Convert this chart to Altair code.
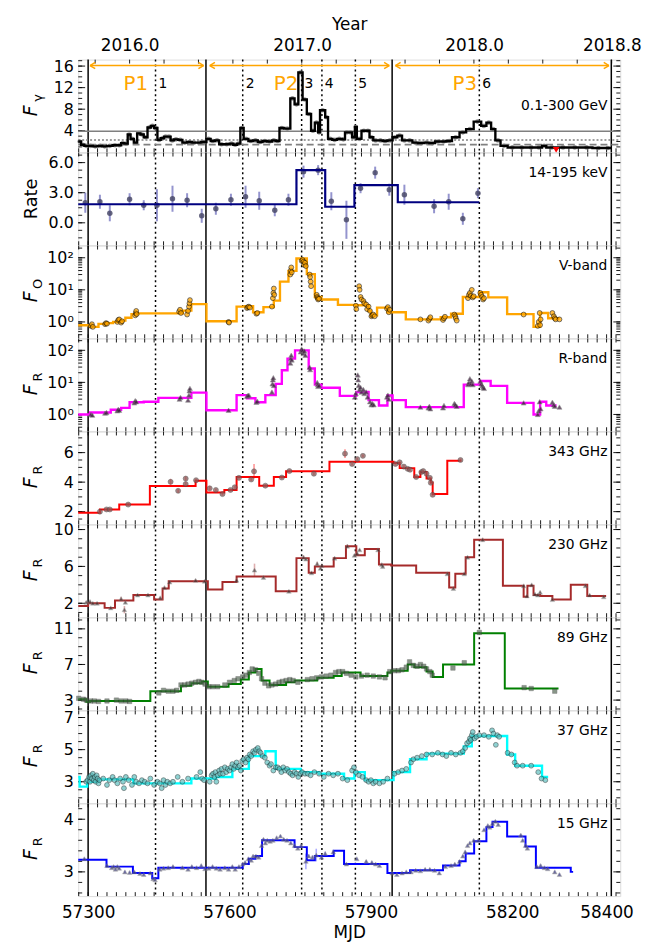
import numpy as np
import pandas as pd
import altair as alt

FONT = "DejaVu Sans"
X0, X1 = 57279, 58429
W, H = 548, 93.7

# ---------------- shared annotations ----------------
period_edges = [57300, 57550, 57945, 58410]
event_mjd = [57443, 57628, 57753, 57796, 57867, 58130]
event_num = ["1", "2", "3", "4", "5", "6"]
period_names = ["P1", "P2", "P3"]
period_label_mjd = [57401, 57720, 58099]
arrow_start = [57304, 57558, 57952]
arrow_end = [57545, 57939, 58405]
year_tick_mjd = [57388.0, 57754.0, 58119.0, 58411.2]
year_tick_label = ["2016.0", "2017.0", "2018.0", "2018.8"]
mjd_tick_vals = [57300, 57600, 57900, 58200, 58400]
fermi_levels = [3.9, 2.28, 1.42]
fermi_ul = [(58293, 0.45)]

# ---------------- Fermi 0.1-300 GeV ----------------
gam_steps = [(57279, 2.0), (57285, 1.4), (57292, 1.2), (57300, 1.2), (57310, 1.1), (57320, 1.2), (57330, 1.1),
             (57340, 1.2), (57352, 1.3), (57362, 1.3), (57370, 1.7), (57377, 1.6), (57384, 3.3), (57390, 2.5),
             (57397, 1.8), (57404, 3.5), (57411, 3.3), (57418, 2.8), (57426, 4.6), (57433, 4.9), (57440, 4.5),
             (57447, 2.3), (57454, 2.6), (57461, 2.9), (57468, 2.9), (57475, 2.2), (57482, 2.4), (57491, 2.3),
             (57500, 1.8), (57510, 1.9), (57520, 1.8), (57530, 1.8), (57540, 1.9), (57551, 2.5), (57560, 2.1),
             (57569, 2.2), (57578, 1.5), (57588, 1.5), (57600, 1.6), (57608, 1.4), (57616, 1.6), (57623, 4.5),
             (57630, 2.5), (57640, 2.1), (57650, 2.2), (57660, 1.9), (57670, 2.1), (57680, 2.0), (57690, 2.2),
             (57698, 2.1), (57706, 4.5), (57716, 4.4), (57729, 10.0), (57738, 8.9), (57746, 14.8), (57755, 9.8),
             (57764, 7.1), (57773, 4.0), (57781, 5.5), (57788, 3.7), (57792, 7.8), (57803, 6.5), (57809, 2.5),
             (57818, 2.3), (57828, 2.5), (57838, 2.4), (57845, 3.7), (57853, 3.7), (57860, 2.8), (57866, 4.7),
             (57870, 2.5), (57880, 4.0), (57890, 4.0), (57897, 2.8), (57905, 2.2), (57915, 2.2), (57925, 2.1),
             (57935, 2.2), (57946, 2.8), (57956, 3.1), (57966, 2.2), (57976, 2.2), (57988, 1.8), (58000, 1.7),
             (58012, 1.8), (58024, 1.7), (58036, 2.0), (58048, 2.0), (58060, 2.1), (58072, 2.8), (58088, 3.7),
             (58102, 4.3), (58118, 5.7), (58134, 4.9), (58145, 5.5), (58155, 4.3), (58164, 2.2), (58175, 1.2),
             (58190, 0.9), (58210, 0.9), (58230, 0.9), (58250, 0.9), (58263, 1.2), (58272, 0.9), (58295, 0.9),
             (58320, 0.9), (58345, 0.9), (58370, 0.8), (58395, 0.8)]
gam_end = 58410

# ---------------- Swift-BAT 14-195 keV ----------------
bat_blocks = [(57279, 1.85), (57742, 5.25), (57803, 1.6), (57865, 3.75), (57957, 2.05)]
bat_end = 58130
bat_pts = [(57294, 2.0, 1.0), (57325, 2.1, 0.7), (57346, 0.95, 0.8), (57388, 2.35, 0.6), (57418, 1.75, 0.5),
           (57446, 1.75, 1.6), (57479, 2.4, 1.3), (57510, 2.25, 0.7), (57541, 0.7, 0.7), (57571, 1.4, 0.6),
           (57603, 2.3, 0.6), (57634, 2.6, 1.1), (57663, 2.2, 0.9), (57696, 1.25, 0.6), (57725, 2.3, 0.6),
           (57757, 5.1, 0.6), (57788, 5.25, 0.5), (57816, 2.15, 0.9), (57848, 0.3, 1.9), (57878, 3.45, 0.5),
           (57909, 5.0, 0.6), (57939, 3.3, 0.6), (57971, 2.8, 1.0), (58034, 1.65, 0.7), (58065, 2.1, 0.8),
           (58095, 0.4, 0.6), (58127, 2.95, 0.5)]

# ---------------- V band ----------------
v_blocks = [(57279, 0.79), (57304, 0.70), (57322, 0.87), (57339, 0.92), (57353, 1.0), (57366, 1.1), (57379, 1.35),
            (57392, 1.75), (57405, 1.85), (57501, 2.25), (57519, 3.6), (57551, 1.05), (57615, 3.0), (57633, 3.1),
            (57650, 2.0), (57672, 2.9), (57694, 4.6), (57707, 18), (57725, 39), (57742, 95), (57764, 31),
            (57781, 6.0), (57795, 5.0), (57830, 3.4), (57869, 3.3), (57895, 2.2), (57900, 1.6), (57913, 2.8),
            (57935, 2.0), (57974, 1.2), (58048, 1.4), (58070, 1.8), (58095, 6.0), (58130, 8.4), (58149, 5.8),
            (58189, 1.75), (58245, 0.7), (58259, 1.9), (58276, 1.3)]
v_end = 58300
v_pts = [(57306, 0.75), (57308, 0.85), (57310, 0.7), (57336, 0.85), (57338, 0.92), (57340, 0.88), (57362, 1.0),
         (57364, 1.15), (57366, 1.2), (57370, 0.95), (57372, 1.05), (57400, 1.6), (57401, 1.9), (57402, 2.2),
         (57403, 1.75), (57493, 2.1), (57495, 2.4), (57497, 1.9), (57510, 1.7), (57512, 2.2), (57514, 3.0),
         (57515, 3.8), (57516, 4.8), (57598, 1.0), (57599, 0.95), (57637, 2.7), (57639, 2.9), (57641, 3.0),
         (57643, 2.8), (57657, 1.8), (57659, 1.9), (57690, 3.0), (57692, 5.5), (57693, 8), (57694, 11), (57695, 7),
         (57729, 30), (57730, 40), (57731, 50), (57732, 35), (57753, 80), (57755, 85), (57757, 75), (57758, 60),
         (57760, 70), (57762, 55), (57770, 30), (57771, 25), (57772, 18), (57773, 13), (57785, 7), (57786, 6),
         (57787, 5.5), (57788, 5), (57790, 5.3), (57868, 3.2), (57869, 2.5), (57875, 13), (57876, 10), (57878, 6),
         (57880, 5), (57884, 4.5), (57886, 3.8), (57890, 3.5), (57892, 2.5), (57895, 3.0), (57898, 2.2),
         (57901, 1.5), (57903, 1.6), (57905, 1.7), (57908, 1.5), (57934, 2.6), (57936, 2.9), (57938, 2.0),
         (57940, 2.4), (58005, 1.2), (58022, 1.1), (58024, 1.25), (58026, 1.4), (58053, 1.15), (58055, 1.3),
         (58057, 1.45), (58077, 1.7), (58079, 1.5), (58080, 1.3), (58082, 1.1), (58106, 5.5), (58108, 7),
         (58110, 8), (58112, 6.5), (58114, 10), (58116, 5.8), (58118, 6.3), (58132, 8), (58134, 7), (58136, 6),
         (58138, 5), (58140, 5.5), (58224, 1.7), (58254, 0.75), (58256, 1.0), (58258, 1.9), (58259, 0.8),
         (58260, 1.2), (58285, 1.9), (58288, 1.5), (58290, 1.3), (58292, 1.2), (58300, 1.2)]

# ---------------- R band ----------------
r_blocks = [(57279, 1.0), (57304, 1.15), (57348, 1.4), (57370, 1.6), (57388, 2.4), (57418, 2.5), (57449, 3.3),
            (57519, 4.8), (57551, 1.35), (57615, 4.0), (57637, 3.2), (57655, 2.4), (57676, 4.0), (57698, 9.0),
            (57711, 24), (57723, 55), (57739, 100), (57768, 27), (57781, 8.5), (57795, 6.8), (57834, 3.8),
            (57869, 5.0), (57895, 2.8), (57917, 1.9), (57935, 3.9), (57946, 2.8), (57974, 1.7), (58097, 8.5),
            (58132, 11), (58154, 7.8), (58189, 2.3), (58245, 1.0), (58259, 2.5), (58272, 1.9)]
r_end = 58294
r_pts = [(57306, 1.0), (57309, 0.95), (57336, 1.1), (57339, 1.15), (57362, 1.3), (57364, 1.45), (57366, 1.35),
         (57398, 2.3), (57400, 2.7), (57402, 2.5), (57494, 3.0), (57496, 3.4), (57512, 2.8), (57514, 4.0),
         (57515, 5.5), (57516, 6.5), (57598, 1.35), (57637, 3.7), (57639, 3.9), (57641, 4.0), (57657, 2.4),
         (57659, 2.6), (57690, 5), (57691, 9), (57692, 12), (57693, 14), (57694, 8), (57729, 40), (57730, 55),
         (57731, 70), (57732, 50), (57751, 90), (57753, 110), (57755, 100), (57757, 80), (57759, 95), (57761, 70),
         (57770, 30), (57771, 25), (57786, 10), (57787, 8.5), (57788, 7.5), (57790, 8), (57866, 3.5), (57868, 4.5),
         (57872, 17), (57873, 12), (57874, 8), (57876, 6), (57878, 7), (57880, 5), (57884, 6), (57886, 4.5),
         (57890, 5), (57893, 3.5), (57898, 2.5), (57901, 2.0), (57903, 2.2), (57906, 2.0), (57934, 3.5),
         (57936, 4.0), (57938, 3.0), (58005, 1.7), (58022, 1.6), (58024, 1.8), (58026, 1.5), (58053, 1.6),
         (58055, 1.9), (58077, 2.2), (58079, 2.0), (58082, 1.8), (58106, 8.5), (58108, 10), (58110, 13),
         (58112, 9), (58114, 11), (58116, 8.5), (58132, 11), (58134, 9), (58136, 8), (58138, 7), (58140, 6.5),
         (58224, 2.3), (58254, 1.0), (58256, 1.3), (58258, 2.5), (58260, 1.5), (58285, 2.4), (58288, 2.0),
         (58290, 1.8), (58300, 1.7)]

# ---------------- 343 GHz ----------------
s343_blocks = [(57279, 1.93), (57325, 2.15), (57366, 2.48), (57431, 3.74), (57528, 4.09), (57551, 3.30),
               (57589, 3.47), (57615, 4.35), (57663, 3.76), (57694, 4.35), (57720, 4.73), (57812, 5.38),
               (57948, 5.3), (57961, 4.95), (57992, 4.35), (58005, 4.68), (58018, 4.24), (58027, 3.98),
               (58031, 3.19), (58062, 5.45)]
s343_end = 58092
s343_pts = [(57325, 2.0, 0.1), (57339, 2.15, 0.1), (57346, 2.15, 0.1), (57385, 2.48, 0.1), (57475, 4.02, 0.2),
            (57491, 3.41, 0.15), (57507, 4.24, 0.15), (57507, 3.87, 0.15), (57529, 4.13, 0.1), (57558, 3.58, 0.15),
            (57571, 3.47, 0.1), (57585, 3.19, 0.1), (57602, 3.47, 0.1), (57611, 3.65, 0.1), (57620, 4.29, 0.1),
            (57646, 4.18, 0.1), (57652, 4.73, 0.5), (57676, 3.76, 0.1), (57711, 4.31, 0.1), (57727, 4.75, 0.1),
            (57779, 4.57, 0.1), (57845, 5.93, 0.3), (57860, 5.23, 0.1), (57871, 5.56, 0.1), (57883, 5.78, 0.1),
            (57952, 5.23, 0.1), (57961, 5.34, 0.1), (57970, 5.05, 0.1), (57978, 4.9, 0.1), (57983, 4.84, 0.1),
            (57996, 4.35, 0.1), (58007, 4.68, 0.1), (58011, 4.75, 0.1), (58018, 4.57, 0.1), (58025, 4.29, 0.1),
            (58027, 3.96, 0.1), (58031, 3.14, 0.1), (58090, 5.5, 0.1)]

# ---------------- 230 GHz ----------------
s230_blocks = [(57279, 1.7), (57300, 2.0), (57335, 1.5), (57357, 2.3), (57396, 2.9), (57440, 2.4), (57458, 3.6),
               (57471, 4.4), (57554, 3.5), (57585, 4.3), (57615, 4.9), (57698, 3.3), (57742, 6.9), (57768, 5.3),
               (57781, 6.0), (57821, 6.9), (57847, 8.2), (57869, 7.2), (57887, 7.9), (57917, 6.2), (57943, 6.1),
               (57996, 5.3), (58066, 3.7), (58079, 5.2), (58101, 7.0), (58119, 8.9), (58180, 3.9), (58224, 2.7),
               (58232, 3.9), (58245, 2.9), (58259, 2.8), (58285, 2.4), (58324, 4.0), (58359, 2.8)]
s230_end = 58399
s230_pts = [(57296, 2.1, 0.1), (57304, 2.2, 0.1), (57310, 2.0, 0.1), (57319, 2.0, 0.1), (57348, 1.5, 0.1),
            (57370, 2.5, 0.2), (57377, 1.3, 0.4), (57379, 2.1, 0.1), (57405, 2.9, 0.1), (57427, 2.9, 0.1),
            (57453, 2.6, 0.1), (57462, 3.7, 0.1), (57473, 4.3, 0.1), (57528, 4.5, 0.1), (57547, 4.4, 0.1),
            (57615, 4.5, 0.1), (57653, 5.6, 0.7), (57672, 4.8, 0.1), (57726, 3.3, 0.1), (57757, 7.0, 0.2),
            (57762, 6.8, 0.1), (57774, 5.3, 0.1), (57786, 6.3, 0.2), (57793, 5.8, 0.1), (57796, 6.1, 0.1),
            (57823, 6.9, 0.1), (57850, 8.2, 0.2), (57865, 7.2, 0.1), (57871, 7.4, 0.1), (57876, 7.8, 0.1),
            (57915, 7.8, 0.1), (57923, 6.2, 0.1), (57925, 6.0, 0.1), (58062, 5.2, 0.1), (58075, 3.6, 0.1),
            (58098, 5.2, 0.1), (58105, 7.0, 0.1), (58137, 8.9, 0.2), (58224, 3.9, 0.1), (58231, 2.8, 0.1),
            (58241, 4.0, 0.1), (58248, 3.0, 0.1), (58254, 2.9, 0.1), (58259, 3.2, 0.1), (58285, 2.4, 0.1),
            (58355, 3.9, 0.1), (58364, 2.9, 0.1), (58394, 2.7, 0.1)]

# ---------------- 89 GHz ----------------
s89_blocks = [(57279, 3.1), (57296, 2.8), (57304, 2.9), (57432, 4.0), (57497, 4.6), (57519, 4.9), (57541, 5.1),
              (57554, 4.5), (57598, 4.8), (57624, 5.3), (57641, 6.1), (57655, 6.5), (57668, 5.2), (57685, 4.7),
              (57720, 5.0), (57738, 5.2), (57786, 5.5), (57821, 5.7), (57838, 6.1), (57878, 5.7), (57935, 6.1),
              (57943, 6.3), (57978, 7.0), (57992, 6.7), (58018, 6.2), (58031, 5.6), (58053, 7.0), (58119, 10.5),
              (58184, 4.3)]
s89_end = 58298
s89_pts = [(57280, 3.2), (57290, 3.1), (57296, 3.0), (57305, 2.9), (57313, 2.9), (57322, 2.85), (57340, 2.9),
           (57360, 3.0), (57370, 2.9), (57380, 2.9), (57388, 2.85), (57450, 3.8), (57460, 4.1), (57470, 4.0),
           (57480, 4.0), (57488, 4.1), (57497, 4.7), (57505, 4.7), (57512, 4.8), (57520, 4.9), (57528, 5.0),
           (57535, 5.1), (57541, 5.0), (57548, 4.8), (57556, 4.5), (57565, 4.5), (57575, 4.5), (57590, 4.7),
           (57600, 5.0), (57610, 5.2), (57618, 5.4), (57628, 5.6), (57635, 5.8), (57642, 6.1), (57648, 6.5),
           (57655, 6.4), (57662, 6.0), (57668, 5.4), (57675, 4.9), (57683, 4.6), (57690, 4.7), (57698, 4.8),
           (57705, 5.0), (57712, 5.1), (57720, 5.2), (57728, 5.3), (57735, 5.2), (57745, 5.0), (57765, 5.3),
           (57775, 5.4), (57785, 5.5), (57795, 5.6), (57805, 5.7), (57815, 5.8), (57825, 6.1), (57832, 6.2),
           (57840, 6.2), (57848, 6.0), (57858, 5.8), (57868, 5.6), (57880, 5.7), (57892, 5.8), (57905, 5.7),
           (57918, 5.6), (57930, 5.5), (57940, 6.2), (57950, 6.3), (57958, 6.3), (57966, 6.4), (57975, 6.7),
           (57982, 7.3), (57990, 6.9), (57998, 6.8), (58005, 7.0), (58012, 6.8), (58018, 6.5), (58025, 6.2),
           (58030, 5.8), (58074, 6.6), (58098, 7.2), (58130, 10.6), (58225, 4.4), (58240, 4.3), (58290, 4.0)]

# ---------------- 37 GHz ----------------
s37_blocks = [(57279, 3.3), (57282, 2.7), (57298, 3.0), (57322, 3.15), (57396, 2.9), (57519, 3.2), (57571, 3.3),
              (57606, 3.8), (57641, 4.6), (57676, 4.9), (57698, 3.8), (57751, 3.6), (57790, 3.5), (57843, 3.2),
              (57865, 3.6), (57887, 3.1), (57948, 3.6), (57983, 4.4), (58018, 4.75), (58097, 5.2), (58114, 5.85),
              (58189, 4.7), (58206, 4.0), (58263, 3.3)]
s37_end = 58276
s37_pts = [(57296, 3.0), (57299, 3.1), (57302, 3.3), (57304, 3.0), (57306, 3.4), (57308, 3.2), (57310, 3.5),
           (57312, 3.1), (57314, 3.3), (57316, 3.0), (57318, 3.4), (57320, 3.2), (57322, 2.9), (57324, 3.1),
           (57332, 3.2), (57340, 2.8), (57345, 3.1), (57352, 3.3), (57356, 3.1), (57362, 2.9), (57368, 3.2),
           (57374, 3.0), (57376, 2.6), (57380, 3.3), (57386, 3.1), (57393, 2.8), (57398, 3.3), (57402, 3.0),
           (57408, 2.9), (57414, 3.1), (57420, 3.0), (57426, 2.9), (57432, 3.2), (57440, 2.8), (57447, 3.0),
           (57452, 2.9), (57456, 2.6), (57460, 3.1), (57464, 2.8), (57468, 3.0), (57474, 2.9), (57480, 3.0),
           (57490, 3.3), (57500, 3.0), (57512, 3.2), (57530, 3.3), (57538, 3.6), (57542, 3.2), (57546, 3.1),
           (57558, 3.0), (57562, 3.4), (57565, 3.5), (57568, 3.3), (57570, 3.6), (57572, 3.0), (57575, 3.4),
           (57578, 3.7), (57580, 3.5), (57583, 3.8), (57586, 3.5), (57590, 3.9), (57593, 3.6), (57596, 3.8),
           (57600, 3.7), (57603, 3.9), (57606, 4.1), (57609, 3.8), (57612, 4.0), (57615, 4.2), (57618, 3.9),
           (57621, 4.0), (57624, 3.7), (57627, 4.3), (57630, 4.4), (57634, 4.2), (57637, 4.5), (57640, 4.4),
           (57643, 4.7), (57646, 4.6), (57650, 4.9), (57653, 4.8), (57656, 5.0), (57660, 5.1), (57663, 4.9),
           (57666, 4.8), (57670, 4.6), (57675, 4.5), (57680, 4.2), (57685, 4.0), (57688, 4.1), (57693, 3.7),
           (57698, 3.9), (57702, 3.9), (57706, 3.8), (57710, 3.6), (57714, 3.9), (57718, 3.7), (57722, 3.8),
           (57726, 3.6), (57730, 3.5), (57734, 3.4), (57738, 3.6), (57742, 3.5), (57746, 3.3), (57750, 3.5),
           (57754, 3.6), (57760, 3.5), (57766, 3.5), (57772, 3.4), (57780, 3.6), (57790, 3.5), (57800, 3.3),
           (57810, 3.5), (57820, 3.4), (57830, 3.5), (57840, 3.2), (57850, 3.1), (57860, 3.7), (57864, 3.9),
           (57868, 3.6), (57875, 3.4), (57882, 3.3), (57890, 3.1), (57895, 3.0), (57900, 3.1), (57905, 2.9),
           (57910, 3.0), (57918, 2.9), (57926, 3.0), (57935, 3.2), (57950, 3.5), (57958, 3.6), (57966, 3.7),
           (57975, 3.8), (57985, 4.2), (57990, 4.4), (57998, 4.5), (58008, 4.6), (58018, 4.7), (58030, 4.7),
           (58042, 4.8), (58052, 4.7), (58060, 4.6), (58070, 4.8), (58080, 4.7), (58090, 4.8), (58095, 4.9),
           (58100, 5.1), (58104, 5.4), (58108, 5.5), (58110, 5.7), (58112, 5.6), (58114, 5.9), (58116, 6.1),
           (58120, 5.7), (58124, 5.8), (58130, 5.9), (58140, 5.9), (58150, 5.8), (58157, 6.2), (58160, 6.0),
           (58165, 5.3), (58168, 5.9), (58172, 5.8), (58190, 4.8), (58198, 4.7), (58205, 4.2), (58210, 4.0),
           (58222, 4.0), (58240, 4.0), (58255, 3.6), (58262, 3.2), (58270, 3.1)]

# ---------------- 15 GHz ----------------
s15_blocks = [(57279, 3.23), (57339, 3.1), (57395, 2.98), (57436, 2.88), (57449, 3.08), (57628, 3.15),
              (57641, 3.25), (57655, 3.3), (57669, 3.6), (57738, 3.47), (57764, 3.22), (57781, 3.3), (57821, 3.4),
              (57843, 3.15), (57935, 2.98), (57983, 3.03), (58053, 3.12), (58088, 3.2), (58101, 3.35),
              (58119, 3.58), (58145, 3.85), (58158, 3.95), (58189, 3.67), (58228, 3.48), (58250, 3.08),
              (58324, 3.0)]
s15_end = 58329
s15_pts = [(57292, 3.25, 0.02), (57340, 3.12, 0.02), (57350, 3.08, 0.02), (57354, 3.1, 0.02), (57358, 3.05, 0.02),
           (57362, 3.1, 0.02), (57366, 3.07, 0.02), (57378, 3.0, 0.02), (57388, 2.99, 0.02), (57398, 3.0, 0.02),
           (57410, 2.97, 0.02), (57418, 2.95, 0.02), (57432, 2.98, 0.02), (57438, 2.87, 0.02), (57442, 2.85, 0.02),
           (57452, 3.05, 0.02), (57460, 3.07, 0.02), (57470, 3.08, 0.02), (57480, 3.1, 0.02), (57500, 3.08, 0.02),
           (57512, 3.05, 0.02), (57520, 3.1, 0.02), (57530, 3.08, 0.02), (57540, 3.12, 0.02), (57548, 3.06, 0.02),
           (57556, 3.07, 0.02), (57564, 3.1, 0.02), (57572, 3.07, 0.02), (57580, 3.05, 0.02), (57590, 3.08, 0.02),
           (57598, 3.05, 0.02), (57606, 3.1, 0.02), (57612, 3.05, 0.02), (57620, 3.1, 0.02), (57628, 3.15, 0.02),
           (57633, 3.18, 0.02), (57640, 3.25, 0.02), (57646, 3.22, 0.02), (57650, 3.3, 0.02), (57656, 3.3, 0.02),
           (57662, 3.28, 0.02), (57668, 3.5, 0.02), (57672, 3.62, 0.02), (57676, 3.55, 0.02), (57680, 3.6, 0.02),
           (57686, 3.58, 0.02), (57692, 3.6, 0.02), (57700, 3.65, 0.02), (57708, 3.68, 0.02), (57715, 3.62, 0.02),
           (57722, 3.6, 0.02), (57730, 3.55, 0.02), (57738, 3.5, 0.02), (57745, 3.45, 0.02), (57752, 3.5, 0.02),
           (57762, 3.2, 0.15), (57768, 3.3, 0.03), (57776, 3.28, 0.03), (57784, 3.32, 0.12), (57795, 3.28, 0.03),
           (57803, 3.35, 0.03), (57820, 3.38, 0.02), (57848, 3.15, 0.02), (57870, 3.25, 0.02), (57890, 3.2, 0.02),
           (57902, 3.18, 0.02), (57910, 3.15, 0.02), (57918, 3.12, 0.02), (57945, 2.98, 0.02), (57955, 2.95, 0.02),
           (57966, 2.98, 0.02), (57975, 3.0, 0.02), (57985, 3.0, 0.02), (57995, 3.03, 0.02), (58005, 3.02, 0.02),
           (58015, 3.05, 0.02), (58025, 3.05, 0.02), (58035, 3.03, 0.02), (58045, 2.98, 0.02), (58058, 3.1, 0.02),
           (58070, 3.12, 0.02), (58078, 3.15, 0.02), (58088, 3.2, 0.02), (58095, 3.3, 0.02), (58100, 3.38, 0.02),
           (58105, 3.5, 0.02), (58110, 3.55, 0.02), (58118, 3.6, 0.02), (58128, 3.6, 0.02), (58140, 3.8, 0.02),
           (58148, 3.88, 0.02), (58152, 3.85, 0.02), (58158, 3.92, 0.02), (58164, 3.96, 0.02), (58170, 3.9, 0.02),
           (58218, 3.7, 0.02), (58222, 3.6, 0.02), (58228, 3.5, 0.02), (58232, 3.45, 0.02), (58252, 3.1, 0.02),
           (58260, 3.12, 0.02), (58268, 3.08, 0.02), (58275, 3.06, 0.02), (58290, 3.0, 0.02), (58300, 2.95, 0.02)]


# ---------------- helpers ----------------
def steps_df(blocks, end):
    xs = [b[0] for b in blocks] + [end]
    ys = [b[1] for b in blocks] + [blocks[-1][1]]
    return pd.DataFrame({"x": xs, "y": ys})


def pts_df(pts):
    cols = ["x", "y", "e"][:len(pts[0])]
    df = pd.DataFrame(pts, columns=cols)
    if "e" in df.columns:
        df["lo"] = df["y"] - df["e"]
        df["hi"] = df["y"] + df["e"]
    return df


XS = alt.Scale(domain=[X0, X1], nice=False, zero=False)


def one(d):
    return pd.DataFrame(d)


def make_panel(cfg):
    ys = alt.Scale(type=cfg.get("ytype", "linear"), domain=cfg["ydom"], nice=False, zero=False)
    ax_kw = dict(values=cfg["yticks"], ticks=False, domain=False, grid=False, title=None,
                 labelFontSize=16, labelPadding=5, labelColor="black", labelFlush=False,
                 labelOverlap=False, labelFont=FONT)
    if "lexpr" in cfg:
        ax_kw["labelExpr"] = cfg["lexpr"]
    if "fmt" in cfg:
        ax_kw["format"] = cfg["fmt"]
    yaxis = alt.Axis(**ax_kw)
    xaxis = cfg.get("xaxis", None)

    def X(f="x"):
        return alt.X(f"{f}:Q", scale=XS, axis=xaxis)

    def Y(f="y"):
        return alt.Y(f"{f}:Q", scale=ys, axis=yaxis)

    L = []
    # inward ticks
    xt = pd.DataFrame({"x": np.arange(57280, 58430, 20)})
    top_df = cfg.get("top_ticks", xt)
    tick = dict(color="black", strokeWidth=0.9)
    L.append(alt.Chart(xt).mark_rule(**tick).encode(x=X(), y=alt.value(H - 4), y2=alt.value(H)))
    L.append(alt.Chart(top_df).mark_rule(**tick).encode(x=X(), y=alt.value(0), y2=alt.value(4)))
    lo, hi = cfg["ydom"]
    ymin = pd.DataFrame({"t": [v for v in cfg["yminor"] if lo <= v <= hi]})
    ymaj = pd.DataFrame({"t": [v for v in cfg["yticks"] if lo <= v <= hi]})
    L.append(alt.Chart(ymin).mark_rule(**tick).encode(y=Y("t"), x=alt.value(0), x2=alt.value(4)))
    L.append(alt.Chart(ymin).mark_rule(**tick).encode(y=Y("t"), x=alt.value(W - 4), x2=alt.value(W)))
    L.append(alt.Chart(ymaj).mark_rule(**tick).encode(y=Y("t"), x=alt.value(0), x2=alt.value(7)))
    L.append(alt.Chart(ymaj).mark_rule(**tick).encode(y=Y("t"), x=alt.value(W - 7), x2=alt.value(W)))
    # period & event lines
    L.append(alt.Chart(one({"x": period_edges})).mark_rule(color="black", strokeWidth=1.5).encode(x=X()))
    L.append(alt.Chart(one({"x": event_mjd})).mark_rule(color="black", strokeWidth=1.5,
                                                         strokeDash=[2, 3]).encode(x=X()))
    L += cfg["layers"](X, Y)
    # band label
    L.append(alt.Chart(one({"t": [cfg["band"]]})).mark_text(
        align="right", baseline="middle", fontSize=14, color="black", font=FONT).encode(
        x=alt.value(W - 13), y=alt.value(cfg.get("band_y", 21)), text="t:N"))
    # y title
    if cfg.get("ysub") is None:
        L.append(alt.Chart(one({"t": [cfg["ytitle"]]})).mark_text(
            angle=270, align="center", baseline="middle", fontSize=18, color="black", font=FONT).encode(
            x=alt.value(-47), y=alt.value(H / 2), text="t:N"))
    else:
        L.append(alt.Chart(one({"t": [cfg["ytitle"]]})).mark_text(
            angle=270, align="center", baseline="middle", fontSize=19, fontStyle="italic",
            color="black", font=FONT).encode(x=alt.value(-48), y=alt.value(H / 2 + 5), text="t:N"))
        L.append(alt.Chart(one({"t": [cfg["ysub"]]})).mark_text(
            angle=270, align="center", baseline="middle", fontSize=13, color="black", font=FONT).encode(
            x=alt.value(-41), y=alt.value(H / 2 - 8), text="t:N"))
    return alt.layer(*L).properties(width=W, height=H)


def step_line(X, Y, df, color, width=2.0):
    return alt.Chart(df).mark_line(interpolate="step-after", color=color, strokeWidth=width).encode(x=X(), y=Y())


def errbars(X, Y, df, color, opacity=0.6, width=1.6):
    return alt.Chart(df).mark_rule(color=color, opacity=opacity, strokeWidth=width).encode(
        x=X(), y=Y("lo"), y2=alt.Y2("hi"))


# ---------------- panel layers ----------------
def lay_fermi(X, Y):
    L = []
    for lvl, dash in zip(fermi_levels, [None, [2, 2], [7, 4]]):
        kw = dict(color="#808080", strokeWidth=1.6)
        if dash is not None:
            kw["strokeDash"] = dash
        L.append(alt.Chart(one({"y": [lvl]})).mark_rule(**kw).encode(y=Y(), x=alt.value(0), x2=alt.value(W)))
    ends = [b[0] for b in gam_steps[1:]] + [gam_end]
    mids = pd.DataFrame({"x": [(b[0] + e) / 2 for b, e in zip(gam_steps, ends)], "y": [b[1] for b in gam_steps]})
    L.append(alt.Chart(mids).mark_circle(color="#8a8a8a", size=22, opacity=0.9).encode(x=X(), y=Y()))
    L.append(step_line(X, Y, steps_df(gam_steps, gam_end), "black", 2.4))
    L.append(alt.Chart(pd.DataFrame(fermi_ul, columns=["x", "y"])).mark_point(
        shape="triangle-down", filled=True, color="red", size=45, opacity=1).encode(x=X(), y=Y()))
    arr = pd.DataFrame({"a": arrow_start, "b": arrow_end})
    L.append(alt.Chart(arr).mark_rule(color="orange", strokeWidth=1.5).encode(
        x=X("a"), x2=alt.X2("b"), y=alt.value(6)))
    L.append(alt.Chart(one({"x": arrow_start})).mark_point(
        shape="M0,0L1,-0.6M0,0L1,0.6", filled=False, stroke="orange", strokeWidth=1.5, size=110, opacity=1).encode(
        x=X(), y=alt.value(6)))
    L.append(alt.Chart(one({"x": arrow_end})).mark_point(
        shape="M0,0L-1,-0.6M0,0L-1,0.6", filled=False, stroke="orange", strokeWidth=1.5, size=110, opacity=1).encode(
        x=X(), y=alt.value(6)))
    L.append(alt.Chart(one({"x": period_label_mjd, "t": period_names})).mark_text(
        color="orange", fontSize=20, baseline="middle", font=FONT).encode(x=X(), y=alt.value(25), text="t:N"))
    L.append(alt.Chart(one({"x": event_mjd, "t": event_num})).mark_text(
        color="black", fontSize=14, align="left", dx=3, baseline="middle", font=FONT).encode(
        x=X(), y=alt.value(25), text="t:N"))
    return L


def lay_bat(X, Y):
    d = pts_df(bat_pts)
    return [errbars(X, Y, d, "#5a5ab4", 0.65, 2.0),
            alt.Chart(d).mark_circle(color="#4a4a6a", size=30, opacity=0.85).encode(x=X(), y=Y()),
            step_line(X, Y, steps_df(bat_blocks, bat_end), "#000080", 2.2)]


def lay_v(X, Y):
    d = pts_df(v_pts)
    return [step_line(X, Y, steps_df(v_blocks, v_end), "orange", 2.4),
            alt.Chart(d).mark_point(shape="circle", filled=True, fill="orange", stroke="black", strokeWidth=0.7,
                                    size=24, opacity=0.75).encode(x=X(), y=Y())]


def lay_r(X, Y):
    d = pts_df(r_pts)
    return [step_line(X, Y, steps_df(r_blocks, r_end), "magenta", 2.4),
            alt.Chart(d).mark_point(shape="triangle-up", filled=True, fill="#3a1a3a", stroke="#777777",
                                    strokeWidth=0.6, size=26, opacity=0.75).encode(x=X(), y=Y())]


def lay_343(X, Y):
    d = pts_df(s343_pts)
    return [errbars(X, Y, d, "#ff5050", 0.6, 1.6),
            step_line(X, Y, steps_df(s343_blocks, s343_end), "red", 2.0),
            alt.Chart(d).mark_point(shape="circle", filled=True, fill="#8a5a5a", stroke="#444444",
                                    strokeWidth=0.6, size=26, opacity=0.75).encode(x=X(), y=Y())]


def lay_230(X, Y):
    d = pts_df(s230_pts)
    return [errbars(X, Y, d, "#c06060", 0.5, 1.6),
            step_line(X, Y, steps_df(s230_blocks, s230_end), "#a52a2a", 2.0),
            alt.Chart(d).mark_point(shape="triangle-up", filled=True, fill="#303030", stroke="#888888",
                                    strokeWidth=0.5, size=22, opacity=0.6).encode(x=X(), y=Y())]


def lay_89(X, Y):
    d = pts_df(s89_pts)
    return [step_line(X, Y, steps_df(s89_blocks, s89_end), "green", 2.0),
            alt.Chart(d).mark_point(shape="square", filled=True, fill="#4a5f4a", stroke="#333333",
                                    strokeWidth=0.5, size=20, opacity=0.65).encode(x=X(), y=Y())]


def lay_37(X, Y):
    d = pts_df(s37_pts)
    return [step_line(X, Y, steps_df(s37_blocks, s37_end), "cyan", 2.4),
            alt.Chart(d).mark_point(shape="circle", filled=True, fill="#5fbfbf", stroke="#1a3030",
                                    strokeWidth=0.7, size=24, opacity=0.7).encode(x=X(), y=Y())]


def lay_15(X, Y):
    d = pts_df(s15_pts)
    return [errbars(X, Y, d, "#6a6aff", 0.55, 1.6),
            step_line(X, Y, steps_df(s15_blocks, s15_end), "blue", 2.0),
            alt.Chart(d).mark_point(shape="triangle-up", filled=True, fill="#4a4a78", stroke="#888888",
                                    strokeWidth=0.5, size=22, opacity=0.7).encode(x=X(), y=Y())]


def log_minor(lo, hi):
    return [k * 10.0 ** e for e in range(-1, 3) for k in range(1, 10) if lo <= k * 10.0 ** e <= hi]


log_expr = "datum.value == 1 ? '10\u2070' : datum.value == 10 ? '10\u00b9' : '10\u00b2'"
year_expr = " : ".join(f"datum.value == {v} ? '{t}'" for v, t in zip(year_tick_mjd, year_tick_label)) + " : ''"

top_axis = alt.Axis(orient="top", values=year_tick_mjd, labelExpr=year_expr, title="Year", ticks=False,
                    domain=False, grid=False, labelFontSize=17, titleFontSize=17, labelPadding=5,
                    titlePadding=3, titleFontWeight="normal", labelFlush=False, labelOverlap=False,
                    labelFont=FONT, titleFont=FONT, labelColor="black", titleColor="black")
bottom_axis = alt.Axis(orient="bottom", values=mjd_tick_vals, format="d", title="MJD", ticks=False,
                       domain=False, grid=False, labelFontSize=17, titleFontSize=17, labelPadding=9,
                       titlePadding=4, titleFontWeight="normal", labelFlush=False, labelOverlap=False,
                       labelFont=FONT, titleFont=FONT, labelColor="black", titleColor="black")
year_minor = pd.DataFrame({"x": [v for v in np.arange(57388 - 73.05, X1, 73.05) if X0 <= v <= X1]})

cfgs = [
    dict(ydom=[0, 17.2], yticks=[4, 8, 12, 16], fmt="d", yminor=list(range(1, 18)), ytitle="F", ysub="\u03b3",
         band="0.1-300 GeV", band_y=47, layers=lay_fermi, xaxis=top_axis, top_ticks=year_minor),
    dict(ydom=[-2.24, 7.0], yticks=[0, 3, 6], fmt=".1f", yminor=list(np.arange(-1.5, 7.0, 0.75)), ytitle="Rate",
         band="14-195 keV", layers=lay_bat),
    dict(ydom=[0.31, 240], ytype="log", yticks=[1, 10, 100], lexpr=log_expr, yminor=log_minor(0.31, 240),
         ytitle="F", ysub="O", band="V-band", layers=lay_v),
    dict(ydom=[0.30, 233], ytype="log", yticks=[1, 10, 100], lexpr=log_expr, yminor=log_minor(0.30, 233),
         ytitle="F", ysub="R", band="R-band", layers=lay_r),
    dict(ydom=[1.15, 7.43], yticks=[2, 4, 6], fmt="d", yminor=list(np.arange(1.5, 7.5, 0.5)), ytitle="F",
         ysub="R", band="343 GHz", layers=lay_343),
    dict(ydom=[0.49, 10.55], yticks=[2, 6, 10], fmt="d", yminor=list(range(1, 11)), ytitle="F", ysub="R",
         band="230 GHz", layers=lay_230),
    dict(ydom=[1.87, 12.28], yticks=[3, 7, 11], fmt="d", yminor=list(range(2, 13)), ytitle="F", ysub="R",
         band="89 GHz", layers=lay_89),
    dict(ydom=[1.67, 7.44], yticks=[3, 5, 7], fmt="d", yminor=list(np.arange(2.0, 7.5, 0.5)), ytitle="F",
         ysub="R", band="37 GHz", layers=lay_37),
    dict(ydom=[2.54, 4.30], yticks=[3, 4], fmt="d", yminor=list(np.arange(2.6, 4.3, 0.2)), ytitle="F",
         ysub="R", band="15 GHz", layers=lay_15, xaxis=bottom_axis),
]

panels = [make_panel(c) for c in cfgs]

chart = alt.vconcat(*panels, spacing=0, bounds="flush").resolve_scale(
    x="independent", y="independent").resolve_axis(x="independent", y="independent").properties(
    padding={"left": 13, "top": 2, "right": 2, "bottom": 2}
).configure_view(stroke="black", strokeWidth=1.5).configure(font=FONT)

chart.save("out.html", embed_options={"renderer": "svg", "actions": False})
